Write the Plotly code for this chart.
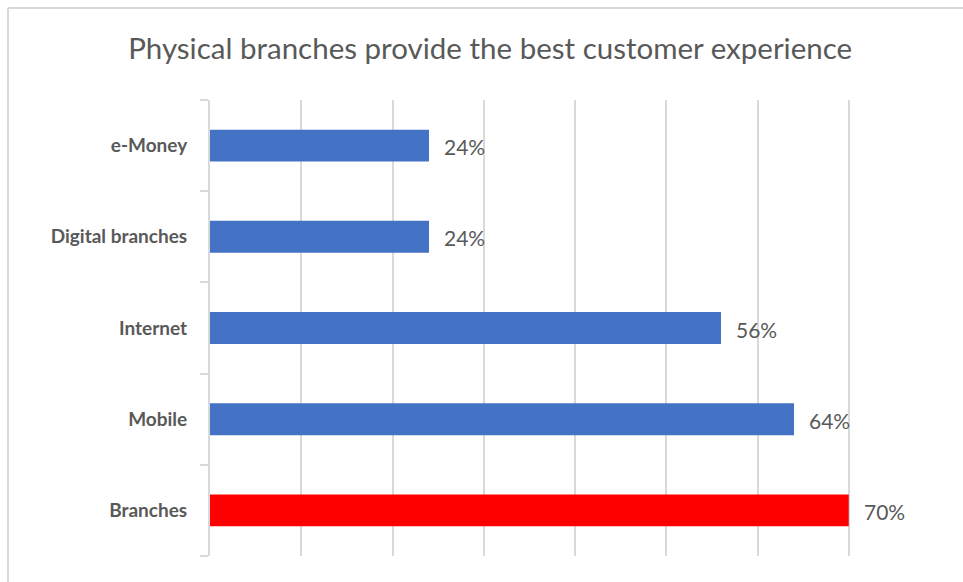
import plotly.graph_objects as go

# Survey results: share of respondents per channel
channels = ["Branches", "Mobile", "Internet", "Digital branches", "e-Money"]
shares = [0.70, 0.64, 0.56, 0.24, 0.24]
bar_colors = ["#FF0000", "#4472C4", "#4472C4", "#4472C4", "#4472C4"]
value_labels = ["70%", "64%", "56%", "24%", "24%"]
title_text = "Physical branches provide the best customer experience"

GRID = "#d9d9d9"
TEXT = "#595959"
FONT = "Lato"

fig = go.Figure(
    go.Bar(
        x=shares,
        y=channels,
        orientation="h",
        marker=dict(color=bar_colors, line=dict(width=0)),
        width=0.35,
        hoverinfo="skip",
    )
)

# value labels to the right of each bar
for ch, v, lab in zip(channels, shares, value_labels):
    fig.add_annotation(
        x=v, y=ch, text=lab, showarrow=False,
        xanchor="left", yanchor="middle", xshift=13, yshift=-1,
        font=dict(family=FONT, size=21, color=TEXT),
    )

# outer frame (top and left edges)
fig.add_shape(type="line", xref="paper", yref="paper",
              x0=-0.2767, x1=1.1, y0=1.2018, y1=1.2018,
              line=dict(color=GRID, width=2))
fig.add_shape(type="line", xref="paper", yref="paper",
              x0=-0.2767, x1=-0.2767, y0=-0.1, y1=1.2018,
              line=dict(color=GRID, width=2))

fig.update_layout(
    width=963, height=582,
    margin=dict(l=210, r=23, t=100, b=26),
    paper_bgcolor="white", plot_bgcolor="white",
    showlegend=False,
    title=dict(text=title_text, x=0.509, xanchor="center", y=0.916, yanchor="middle",
               font=dict(family=FONT, size=29.5, color=TEXT)),
    xaxis=dict(range=[0, 0.8], dtick=0.1, showgrid=True, gridcolor=GRID, gridwidth=2,
               showticklabels=False, zeroline=False, showline=False, fixedrange=True),
    yaxis=dict(categoryorder="array", categoryarray=channels,
               showline=True, linecolor=GRID, linewidth=2,
               ticks="outside", tickson="boundaries", ticklen=8, tickcolor=GRID, tickwidth=2,
               showgrid=False, zeroline=False,
               tickfont=dict(family=FONT, size=19, color=TEXT, weight="bold"),
               ticklabelstandoff=17),
)

fig.write_html("out.html")
